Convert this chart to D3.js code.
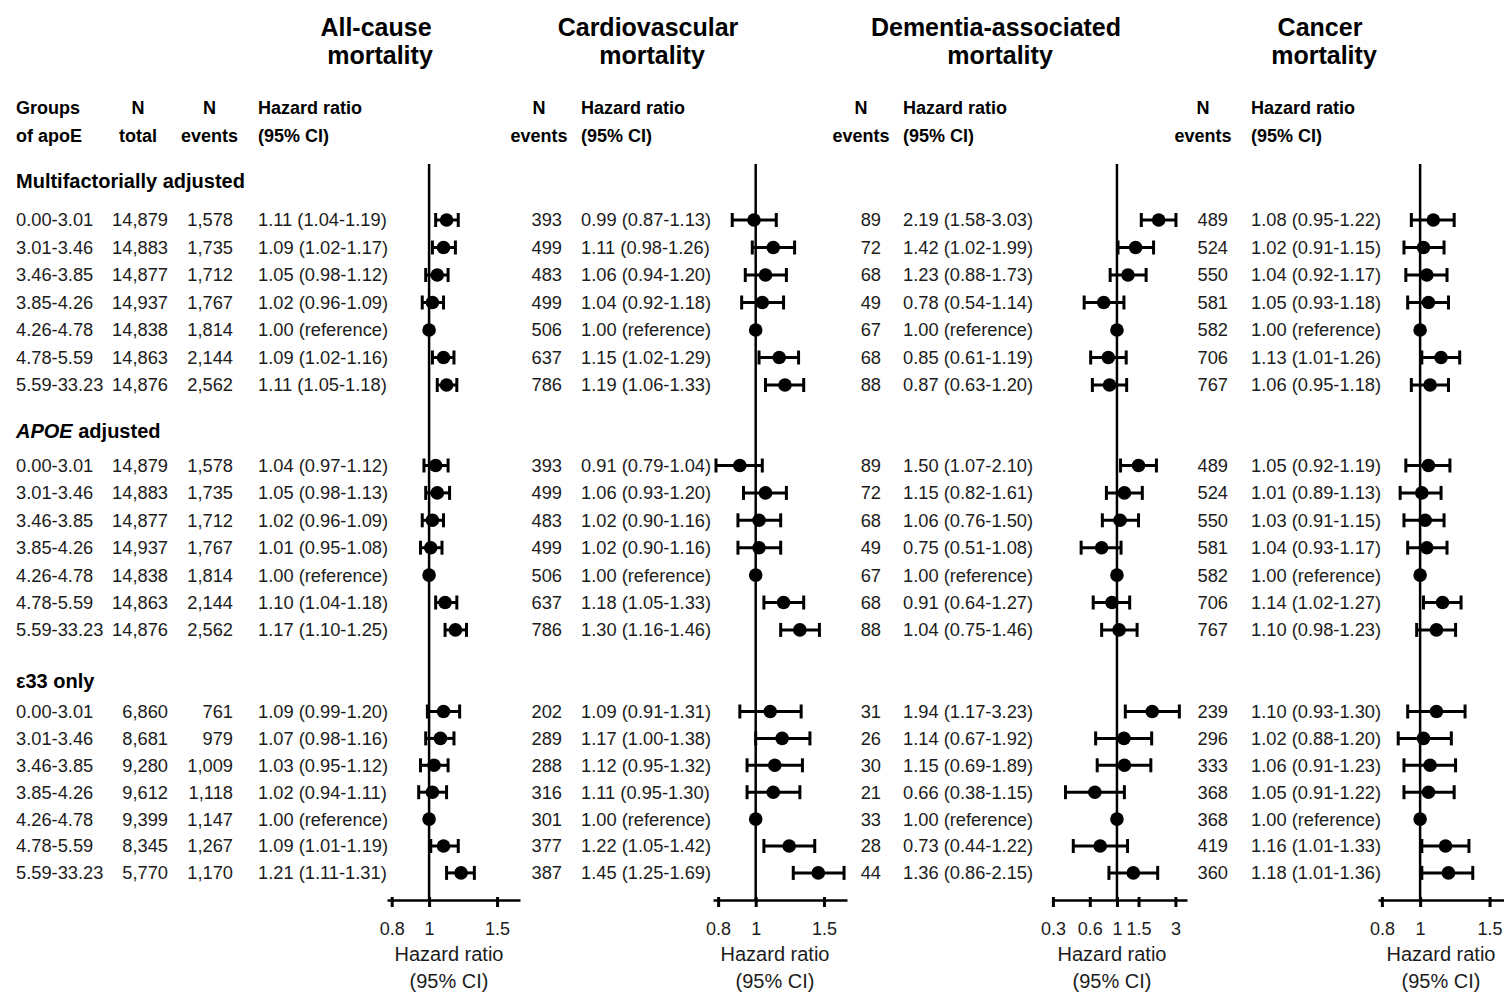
<!DOCTYPE html>
<html>
<head>
<meta charset="utf-8">
<script src="https://cdn.jsdelivr.net/npm/d3@7"></script>
<style>
  body { margin: 0; background: #fff; }
  svg { display: block; }
  text { font-family: "Liberation Sans", Arial, Helvetica, sans-serif; }
</style>
</head>
<body>
<svg id="chart" width="1504" height="994"></svg>
<script>
// ---- Data ----------------------------------------------------------------
const groups = ["0.00-3.01", "3.01-3.46", "3.46-3.85", "3.85-4.26", "4.26-4.78", "4.78-5.59", "5.59-33.23"];
const sections = ["Multifactorially adjusted", "APOE adjusted", "ε33 only"];
const outcomes = [["All-cause", "mortality"], ["Cardiovascular", "mortality"], ["Dementia-associated", "mortality"], ["Cancer", "mortality"]];

const nTotal = [
  [14879, 14883, 14877, 14937, 14838, 14863, 14876],
  [14879, 14883, 14877, 14937, 14838, 14863, 14876],
  [6860, 8681, 9280, 9612, 9399, 8345, 5770]
];

// All-cause mortality
const allCauseEvents = [
  [1578, 1735, 1712, 1767, 1814, 2144, 2562],
  [1578, 1735, 1712, 1767, 1814, 2144, 2562],
  [761, 979, 1009, 1118, 1147, 1267, 1170]
];
const allCauseHR = [
  [1.11, 1.09, 1.05, 1.02, 1.00, 1.09, 1.11],
  [1.04, 1.05, 1.02, 1.01, 1.00, 1.10, 1.17],
  [1.09, 1.07, 1.03, 1.02, 1.00, 1.09, 1.21]
];
const allCauseLo = [
  [1.04, 1.02, 0.98, 0.96, null, 1.02, 1.05],
  [0.97, 0.98, 0.96, 0.95, null, 1.04, 1.10],
  [0.99, 0.98, 0.95, 0.94, null, 1.01, 1.11]
];
const allCauseHi = [
  [1.19, 1.17, 1.12, 1.09, null, 1.16, 1.18],
  [1.12, 1.13, 1.09, 1.08, null, 1.18, 1.25],
  [1.20, 1.16, 1.12, 1.11, null, 1.19, 1.31]
];

// Cardiovascular mortality
const cardioEvents = [
  [393, 499, 483, 499, 506, 637, 786],
  [393, 499, 483, 499, 506, 637, 786],
  [202, 289, 288, 316, 301, 377, 387]
];
const cardioHR = [
  [0.99, 1.11, 1.06, 1.04, 1.00, 1.15, 1.19],
  [0.91, 1.06, 1.02, 1.02, 1.00, 1.18, 1.30],
  [1.09, 1.17, 1.12, 1.11, 1.00, 1.22, 1.45]
];
const cardioLo = [
  [0.87, 0.98, 0.94, 0.92, null, 1.02, 1.06],
  [0.79, 0.93, 0.90, 0.90, null, 1.05, 1.16],
  [0.91, 1.00, 0.95, 0.95, null, 1.05, 1.25]
];
const cardioHi = [
  [1.13, 1.26, 1.20, 1.18, null, 1.29, 1.33],
  [1.04, 1.20, 1.16, 1.16, null, 1.33, 1.46],
  [1.31, 1.38, 1.32, 1.30, null, 1.42, 1.69]
];

// Dementia-associated mortality
const dementiaEvents = [
  [89, 72, 68, 49, 67, 68, 88],
  [89, 72, 68, 49, 67, 68, 88],
  [31, 26, 30, 21, 33, 28, 44]
];
const dementiaHR = [
  [2.19, 1.42, 1.23, 0.78, 1.00, 0.85, 0.87],
  [1.50, 1.15, 1.06, 0.75, 1.00, 0.91, 1.04],
  [1.94, 1.14, 1.15, 0.66, 1.00, 0.73, 1.36]
];
const dementiaLo = [
  [1.58, 1.02, 0.88, 0.54, null, 0.61, 0.63],
  [1.07, 0.82, 0.76, 0.51, null, 0.64, 0.75],
  [1.17, 0.67, 0.69, 0.38, null, 0.44, 0.86]
];
const dementiaHi = [
  [3.03, 1.99, 1.73, 1.14, null, 1.19, 1.20],
  [2.10, 1.61, 1.50, 1.08, null, 1.27, 1.46],
  [3.23, 1.92, 1.89, 1.15, null, 1.22, 2.15]
];

// Cancer mortality
const cancerEvents = [
  [489, 524, 550, 581, 582, 706, 767],
  [489, 524, 550, 581, 582, 706, 767],
  [239, 296, 333, 368, 368, 419, 360]
];
const cancerHR = [
  [1.08, 1.02, 1.04, 1.05, 1.00, 1.13, 1.06],
  [1.05, 1.01, 1.03, 1.04, 1.00, 1.14, 1.10],
  [1.10, 1.02, 1.06, 1.05, 1.00, 1.16, 1.18]
];
const cancerLo = [
  [0.95, 0.91, 0.92, 0.93, null, 1.01, 0.95],
  [0.92, 0.89, 0.91, 0.93, null, 1.02, 0.98],
  [0.93, 0.88, 0.91, 0.91, null, 1.01, 1.01]
];
const cancerHi = [
  [1.22, 1.15, 1.17, 1.18, null, 1.26, 1.18],
  [1.19, 1.13, 1.15, 1.17, null, 1.27, 1.23],
  [1.30, 1.20, 1.23, 1.22, null, 1.33, 1.36]
];

// Axis ticks (hazard ratio, log scale)
const ticksNarrow = [0.8, 1, 1.5];
const ticksWide = [0.3, 0.6, 1, 1.5, 3];

// ---- Layout --------------------------------------------------------------
const svg = d3.select("#chart");
svg.append("rect").attr("width", 1504).attr("height", 994).attr("fill", "#fff");

const INK = "#000";
const TXT = "#1c1c1c";
const bodySize = 18.3;
const axisY = 900;
const refTop = 164;

const sectionHeadY = [188, 438, 688];      // baselines of the section titles
const sectionStart = [220, 465.5, 711.5];  // centre of first row in each section
const sectionStep = [27.5, 27.4, 26.9];
const rowY = (s, i) => sectionStart[s] + i * sectionStep[s];

const panels = [
  { events: allCauseEvents, hr: allCauseHR, lo: allCauseLo, hi: allCauseHi, ticks: ticksNarrow,
    titleX: 376, eventsRight: 233, eventsHeadX: 209.5, hrX: 258,
    domain: [0.778, 1.72], range: [387, 520], axisTitleX: 449 },
  { events: cardioEvents, hr: cardioHR, lo: cardioLo, hi: cardioHi, ticks: ticksNarrow,
    titleX: 648, eventsRight: 562, eventsHeadX: 539, hrX: 581,
    domain: [0.776, 1.72], range: [713, 847], axisTitleX: 775 },
  { events: dementiaEvents, hr: dementiaHR, lo: dementiaLo, hi: dementiaHi, ticks: ticksWide,
    titleX: 996, eventsRight: 881, eventsHeadX: 861, hrX: 903,
    domain: [0.295, 3.73], range: [1052, 1187], axisTitleX: 1112 },
  { events: cancerEvents, hr: cancerHR, lo: cancerLo, hi: cancerHi, ticks: ticksNarrow,
    titleX: 1320, eventsRight: 1228, eventsHeadX: 1203, hrX: 1251,
    domain: [0.782, 1.72], range: [1378, 1513], axisTitleX: 1441 }
];

const fmtN = d3.format(",");
const fmt2 = d3.format(".2f");
const hrLabel = (h, l, u) => l == null ? "1.00 (reference)" : `${fmt2(h)} (${fmt2(l)}-${fmt2(u)})`;

function txt(g, x, y, s, opts = {}) {
  return g.append("text")
    .attr("x", x).attr("y", y)
    .attr("text-anchor", opts.anchor || "start")
    .attr("font-size", opts.size || bodySize)
    .attr("font-weight", opts.bold ? "bold" : "normal")
    .attr("fill", opts.fill || TXT)
    .text(s);
}

// ---- Left block: groups, N total -----------------------------------------
const left = svg.append("g");
txt(left, 16, 114, "Groups", { bold: true, fill: INK, size: 18 });
txt(left, 16, 142, "of apoE", { bold: true, fill: INK, size: 18 });
txt(left, 138, 114, "N", { bold: true, fill: INK, anchor: "middle", size: 18 });
txt(left, 138, 142, "total", { bold: true, fill: INK, anchor: "middle", size: 18 });

sections.forEach((name, s) => {
  const t = left.append("text").attr("x", 16).attr("y", sectionHeadY[s])
    .attr("font-size", 20).attr("font-weight", "bold").attr("fill", INK);
  if (name.startsWith("APOE")) {
    t.append("tspan").attr("font-style", "italic").text("APOE");
    t.append("tspan").text(name.slice(4));
  } else {
    t.text(name);
  }
  groups.forEach((gName, i) => {
    const y = rowY(s, i);
    txt(left, 16, y, gName).attr("dy", "0.35em");
    txt(left, 168, y, fmtN(nTotal[s][i]), { anchor: "end" }).attr("dy", "0.35em");
  });
});

// ---- Outcome panels ------------------------------------------------------
panels.forEach((p, k) => {
  const g = svg.append("g");
  const x = d3.scaleLog().domain(p.domain).range(p.range);

  // title
  txt(g, p.titleX, 36, outcomes[k][0], { bold: true, fill: INK, size: 25, anchor: "middle" });
  txt(g, p.titleX + 4, 64, outcomes[k][1], { bold: true, fill: INK, size: 25, anchor: "middle" });

  // column headers
  txt(g, p.eventsHeadX, 114, "N", { bold: true, fill: INK, anchor: "middle", size: 18 });
  txt(g, p.eventsHeadX, 142, "events", { bold: true, fill: INK, anchor: "middle", size: 18 });
  txt(g, p.hrX, 114, "Hazard ratio", { bold: true, fill: INK, size: 18 });
  txt(g, p.hrX, 142, "(95% CI)", { bold: true, fill: INK, size: 18 });

  // reference line at HR = 1
  g.append("line")
    .attr("x1", x(1)).attr("x2", x(1))
    .attr("y1", refTop).attr("y2", axisY)
    .attr("stroke", INK).attr("stroke-width", 2.5);

  // axis
  const axis = d3.axisBottom(x)
    .tickValues(p.ticks)
    .tickFormat(d3.format("~g"))
    .tickSizeInner(7)
    .tickSizeOuter(0);
  const ag = g.append("g").attr("transform", `translate(0,${axisY})`).call(axis);
  ag.select(".domain").attr("stroke", INK).attr("stroke-width", 2.5);
  ag.selectAll(".tick line").attr("stroke", INK).attr("stroke-width", 3).attr("y1", -3).attr("y2", 7);
  ag.selectAll(".tick text")
    .attr("y", 22).attr("dy", "0.71em")
    .attr("font-size", 18).attr("fill", TXT)
    .attr("font-family", "'Liberation Sans', Arial, sans-serif");

  txt(g, p.axisTitleX, 961, "Hazard ratio", { size: 20, anchor: "middle" });
  txt(g, p.axisTitleX, 988, "(95% CI)", { size: 20, anchor: "middle" });

  // rows
  sections.forEach((_, s) => {
    groups.forEach((_, i) => {
      const y = rowY(s, i);
      const h = p.hr[s][i], l = p.lo[s][i], u = p.hi[s][i];
      txt(g, p.eventsRight, y, fmtN(p.events[s][i]), { anchor: "end" }).attr("dy", "0.35em");
      txt(g, p.hrX, y, hrLabel(h, l, u)).attr("dy", "0.35em");

      if (l != null) {
        g.append("line").attr("x1", x(l)).attr("x2", x(u)).attr("y1", y).attr("y2", y)
          .attr("stroke", INK).attr("stroke-width", 3);
        [l, u].forEach(v => {
          g.append("line").attr("x1", x(v)).attr("x2", x(v)).attr("y1", y - 7).attr("y2", y + 7)
            .attr("stroke", INK).attr("stroke-width", 3);
        });
      }
      g.append("circle").attr("cx", x(h)).attr("cy", y).attr("r", 6.8).attr("fill", INK);
    });
  });
});
</script>
</body>
</html>
